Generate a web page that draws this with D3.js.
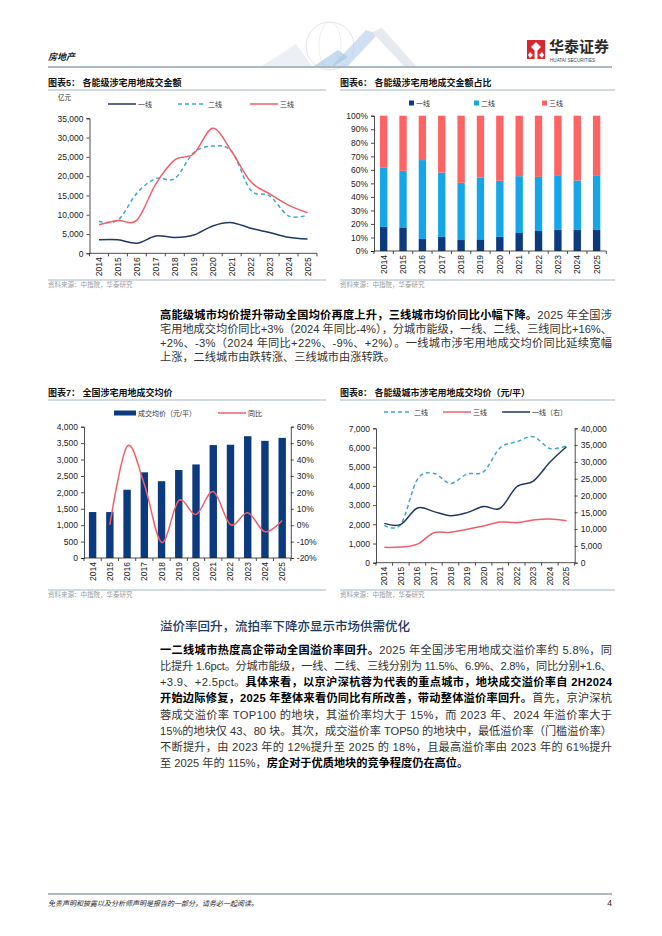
<!DOCTYPE html>
<html>
<head>
<meta charset="utf-8">
<script src="https://cdn.jsdelivr.net/npm/d3@7"></script>
<style>
body { margin: 0; background: #fff; }
svg { display: block; }
</style>
</head>
<body>
<svg width="662" height="936"></svg>
<script>
// data
var years = ["2014","2015","2016","2017","2018","2019","2020","2021","2022","2023","2024","2025"];

// chart 5: land deal amount (亿元)
var amtTier1 = [3500, 3500, 2600, 4500, 4100, 4750, 7100, 7950, 6500, 5400, 4150, 3700];
var amtTier2 = [8300, 8600, 15600, 19400, 19400, 26100, 27800, 26400, 16400, 14900, 9700, 9900];
var amtTier3 = [7400, 8500, 8600, 18000, 24200, 25800, 32400, 26400, 18600, 15400, 12500, 10500];
var amtTicks = [0, 5000, 10000, 15000, 20000, 25000, 30000, 35000];

// chart 6: share of amount (%)
var shareTier1 = [17.8, 17.0, 8.9, 10.4, 8.1, 8.6, 10.4, 13.3, 14.8, 15.6, 15.6, 15.6];
var shareTier2 = [43.7, 42.3, 58.3, 47.6, 42.3, 45.5, 41.5, 42.0, 40.0, 40.4, 36.5, 40.4];
var shareTier3 = [38.5, 40.7, 32.8, 42.0, 49.6, 45.9, 48.1, 44.7, 45.2, 44.0, 47.9, 44.0];
var shareTicks = [0, 10, 20, 30, 40, 50, 60, 70, 80, 90, 100];

// chart 7: national average price (元/平) and yoy (%)
var avgPrice = [1400, 1400, 2080, 2610, 2340, 2680, 2850, 3440, 3450, 3710, 3570, 3660];
var avgPriceYoy = [null, 0.2, 48, 25, -10.5, 15, 6.5, 20.5, 0.3, 7.6, -4, 2.8];
var priceTicks = [0, 500, 1000, 1500, 2000, 2500, 3000, 3500, 4000];
var yoyTicks = [-20, -10, 0, 10, 20, 30, 40, 50, 60];

// chart 8: average price by tier (元/平)
var priceTier2 = [1940, 2000, 4340, 4650, 4130, 4620, 4740, 5990, 6300, 6560, 5950, 6080];
var priceTier3 = [800, 820, 970, 1560, 1580, 1740, 1910, 2120, 2080, 2220, 2270, 2190];
var priceTier1 = [11700, 11400, 16300, 15200, 14000, 14900, 16700, 16200, 22600, 24300, 29900, 34500];
var tierLeftTicks = [0, 1000, 2000, 3000, 4000, 5000, 6000, 7000];
var tierRightTicks = [0, 5000, 10000, 15000, 20000, 25000, 30000, 35000, 40000];

var navy = "#1f3864", teal = "#3ea8c8", coral = "#f0606a";
var barNavy = "#0b3a7e", sky = "#14a6e8", salmon = "#ff6464";
var latin = "'Liberation Sans', Arial, 'Noto Sans CJK SC', sans-serif";
var cjk = "'Liberation Sans', 'Noto Sans CJK SC', sans-serif";

var svg = d3.select("svg");

// ---------- page header ----------
var hdr = svg.append("g");
// faint globe decoration
hdr.append("circle").attr("cx", 330).attr("cy", 46).attr("r", 24)
    .attr("fill", "none").attr("stroke", "#d9dee5").attr("stroke-width", 0.8);
hdr.append("ellipse").attr("cx", 330).attr("cy", 46).attr("rx", 11).attr("ry", 24)
    .attr("fill", "none").attr("stroke", "#e0e4ea").attr("stroke-width", 0.6);
hdr.append("path").attr("d", "M262,66 L296,44 L312,66 Z").attr("fill", "#eceff3");
hdr.append("path").attr("d", "M332,66 L366,30 L378,34 L348,66 Z").attr("fill", "#bcd3ec").attr("opacity", 0.7);
hdr.append("path").attr("d", "M372,32 L382,28 L416,66 L404,66 Z").attr("fill", "#e6e9ee");
hdr.append("path").attr("d", "M314,66 L338,50 L348,57 L334,66 Z").attr("fill", "#9cc3e6").attr("opacity", 0.6);

hdr.append("text").attr("x", 48).attr("y", 60)
    .attr("font-family", cjk).attr("font-size", 9).attr("font-weight", 700)
    .attr("font-style", "italic").attr("fill", "#222").text("房地产");
hdr.append("line").attr("x1", 48).attr("x2", 612).attr("y1", 67).attr("y2", 67)
    .attr("stroke", "#8fa2b4").attr("stroke-width", 1.5);

// logo
hdr.append("rect").attr("x", 527).attr("y", 40).attr("width", 18).attr("height", 19).attr("fill", "#d7282f");
hdr.append("path").attr("d", "M536,42 L541,47 L536,52 L531,47 Z M530,52 L533,55 L530,58 L528,55 Z M542,52 L544,55 L542,58 L539,55 Z")
    .attr("fill", "#fff");
hdr.append("rect").attr("x", 534.5).attr("y", 51).attr("width", 3).attr("height", 8).attr("fill", "#fff");
hdr.append("text").attr("x", 549).attr("y", 52)
    .attr("font-family", "'Noto Sans CJK SC', sans-serif").attr("font-size", 15).attr("font-weight", 700)
    .attr("fill", "#2a2a2a").text("华泰证券");
hdr.append("text").attr("x", 550).attr("y", 61.5)
    .attr("font-family", latin).attr("font-size", 4.6).attr("fill", "#444").text("HUATAI SECURITIES");

// ---------- helpers ----------
function chartTitle(x, y, x2, label) {
    svg.append("text").attr("x", x).attr("y", y)
        .attr("font-family", cjk).attr("font-size", 9).attr("font-weight", 700)
        .attr("fill", "#111").text(label);
    svg.append("line").attr("x1", x).attr("x2", x2).attr("y1", y + 4).attr("y2", y + 4)
        .attr("stroke", "#8fa2b4").attr("stroke-width", 0.8);
}

function chartSource(x, y, x2) {
    svg.append("line").attr("x1", x).attr("x2", x2).attr("y1", y - 7).attr("y2", y - 7)
        .attr("stroke", "#8fa2b4").attr("stroke-width", 0.8);
    svg.append("text").attr("x", x).attr("y", y)
        .attr("font-family", cjk).attr("font-size", 6.5).attr("fill", "#9a9a9a")
        .text("资料来源：中指院，华泰研究");
}

function styleAxis(g) {
    g.selectAll("path.domain").attr("stroke", "#222").attr("stroke-width", 0.8);
    g.selectAll(".tick line").attr("stroke", "#222").attr("stroke-width", 0.8);
    g.selectAll(".tick text").attr("font-family", latin).attr("font-size", 8.5).attr("fill", "#222");
}

function yAxisLeft(x, scale, ticks, fmt) {
    var g = svg.append("g").attr("transform", "translate(" + x + ",0)")
        .call(d3.axisLeft(scale).tickValues(ticks).tickFormat(fmt).tickSizeOuter(0).tickSize(3).tickPadding(3));
    styleAxis(g);
}

function yAxisRight(x, scale, ticks, fmt) {
    var g = svg.append("g").attr("transform", "translate(" + x + ",0)")
        .call(d3.axisRight(scale).tickValues(ticks).tickFormat(fmt).tickSizeOuter(0).tickSize(3).tickPadding(3));
    styleAxis(g);
}

// category axis with ticks between categories, rotated year labels
function xAxisYears(xScale, y) {
    var r = xScale.range();
    var g = svg.append("g");
    g.append("line").attr("x1", r[0]).attr("x2", r[1]).attr("y1", y).attr("y2", y)
        .attr("stroke", "#222").attr("stroke-width", 0.8);
    var bounds = d3.range(years.length + 1).map(function(i) { return r[0] + i * xScale.step(); });
    g.selectAll("line.tk").data(bounds).enter().append("line")
        .attr("x1", function(d) { return d; }).attr("x2", function(d) { return d; })
        .attr("y1", y).attr("y2", y + 3).attr("stroke", "#222").attr("stroke-width", 0.8);
    g.selectAll("text").data(years).enter().append("text")
        .attr("transform", function(d) {
            return "translate(" + (xScale(d) + xScale.bandwidth() / 2 + 3) + "," + (y + 4) + ") rotate(-90)";
        })
        .attr("text-anchor", "end")
        .attr("font-family", latin).attr("font-size", 8.5).attr("fill", "#222")
        .text(function(d) { return d; });
}

function lineLegend(x, y, color, dash, label) {
    svg.append("line").attr("x1", x).attr("x2", x + 28).attr("y1", y).attr("y2", y)
        .attr("stroke", color).attr("stroke-width", 1.5).attr("stroke-dasharray", dash);
    svg.append("text").attr("x", x + 30).attr("y", y + 2.5)
        .attr("font-family", cjk).attr("font-size", 7).attr("fill", "#333").text(label);
}

function boxLegend(x, y, w, color, label) {
    svg.append("rect").attr("x", x).attr("y", y - 2.5).attr("width", w).attr("height", 5).attr("fill", color);
    svg.append("text").attr("x", x + w + 2).attr("y", y + 2.5)
        .attr("font-family", cjk).attr("font-size", 7).attr("fill", "#333").text(label);
}

var comma = d3.format(",");
var pct = function(d) { return d + "%"; };
var smooth = d3.curveCatmullRom.alpha(0);

function drawLine(xScale, yScale, values, color, dash) {
    var line = d3.line()
        .defined(function(d) { return d != null; })
        .x(function(d, i) { return xScale(years[i]) + xScale.bandwidth() / 2; })
        .y(function(d) { return yScale(d); })
        .curve(smooth);
    svg.append("path").datum(values).attr("d", line)
        .attr("fill", "none").attr("stroke", color).attr("stroke-width", 1.5)
        .attr("stroke-dasharray", dash);
}

// ---------- chart 5 ----------
chartTitle(48, 86, 326, "图表5：  各能级涉宅用地成交金额");
svg.append("text").attr("x", 58).attr("y", 100)
    .attr("font-family", cjk).attr("font-size", 6.5).attr("fill", "#333").text("亿元");
lineLegend(108, 104, navy, null, "一线");
lineLegend(178, 104, teal, "4,3", "二线");
lineLegend(250, 104, coral, null, "三线");

var x5 = d3.scaleBand().domain(years).range([89.5, 317]);
var y5 = d3.scaleLinear().domain([0, 35000]).range([253.3, 118.3]);
yAxisLeft(89.5, y5, amtTicks, comma);
drawLine(x5, y5, amtTier2, teal, "4,3");
drawLine(x5, y5, amtTier3, coral, null);
drawLine(x5, y5, amtTier1, navy, null);
xAxisYears(x5, 253.3);
chartSource(48, 287, 326);

// ---------- chart 6 ----------
chartTitle(340, 86, 615, "图表6：  各能级涉宅用地成交金额占比");
boxLegend(409, 103, 5, barNavy, "一线");
boxLegend(474, 103, 5, sky, "二线");
boxLegend(542, 103, 5, salmon, "三线");

var x6 = d3.scaleBand().domain(years).range([374, 606.3]).paddingInner(0.62).paddingOuter(0.31);
var y6 = d3.scaleLinear().domain([0, 100]).range([251, 115.7]);
var shareRows = years.map(function(yr, i) {
    return { year: yr, t1: shareTier1[i], t2: shareTier2[i], t3: shareTier3[i] };
});
var stack = d3.stack().keys(["t1", "t2", "t3"])(shareRows);
var stackColors = [barNavy, sky, salmon];
svg.append("g").selectAll("g").data(stack).enter().append("g")
    .attr("fill", function(d, i) { return stackColors[i]; })
    .selectAll("rect").data(function(d) { return d; }).enter().append("rect")
    .attr("x", function(d) { return x6(d.data.year); })
    .attr("width", x6.bandwidth())
    .attr("y", function(d) { return y6(d[1]); })
    .attr("height", function(d) { return y6(d[0]) - y6(d[1]); });
yAxisLeft(374, y6, shareTicks, pct);
xAxisYears(x6, 251);
chartSource(340, 287, 615);

// ---------- body paragraph 1 ----------
var textX = 160, textW = 452;
function bodyLine(y, segs, justify) {
    var t = svg.append("text").attr("x", textX).attr("y", y)
        .attr("font-family", cjk).attr("font-size", 11.2);
    if (justify) t.attr("textLength", textW).attr("lengthAdjust", "spacing");
    segs.forEach(function(s) {
        t.append("tspan").attr("font-weight", s[1] ? 700 : 400)
            .attr("fill", s[1] ? "#000" : "#333").text(s[0]);
    });
}
bodyLine(319, [["高能级城市均价提升带动全国均价再度上升，三线城市均价同比小幅下降。", 1], ["2025 年全国涉", 0]], true);
bodyLine(333, [["宅用地成交均价同比+3%（2024 年同比-4%），分城市能级，一线、二线、三线同比+16%、", 0]], true);
bodyLine(347, [["+2%、-3%（2024 年同比+22%、-9%、+2%）。一线城市涉宅用地成交均价同比延续宽幅", 0]], true);
bodyLine(361, [["上涨，二线城市由跌转涨、三线城市由涨转跌。", 0]], false);

// ---------- chart 7 ----------
chartTitle(48, 396, 326, "图表7：  全国涉宅用地成交均价");
boxLegend(114, 413, 22, barNavy, "成交均价（元/平）");
lineLegend(218, 413, coral, null, "同比");

var x7 = d3.scaleBand().domain(years).range([84, 290.8]).paddingInner(0.57).paddingOuter(0.285);
var y7 = d3.scaleLinear().domain([0, 4000]).range([558, 426.7]);
var y7r = d3.scaleLinear().domain([-20, 60]).range([558, 426.7]);
svg.append("g").selectAll("rect").data(avgPrice).enter().append("rect")
    .attr("x", function(d, i) { return x7(years[i]); })
    .attr("width", x7.bandwidth())
    .attr("y", function(d) { return y7(d); })
    .attr("height", function(d) { return y7(0) - y7(d); })
    .attr("fill", barNavy);
var x7c = d3.scaleBand().domain(years).range([84, 290.8]);
drawLine(x7c, y7r, avgPriceYoy, coral, null);
yAxisLeft(84, y7, priceTicks, comma);
yAxisRight(290.8, y7r, yoyTicks, pct);
xAxisYears(x7c, 558);
chartSource(48, 597, 326);

// ---------- chart 8 ----------
chartTitle(340, 396, 615, "图表8：  各能级城市涉宅用地成交均价（元/平）");
lineLegend(384, 412, teal, "4,3", "二线");
lineLegend(443, 412, coral, null, "三线");
lineLegend(502, 412, navy, null, "一线（右）");

var x8 = d3.scaleBand().domain(years).range([376, 574.7]);
var y8 = d3.scaleLinear().domain([0, 7000]).range([562.7, 428.3]);
var y8r = d3.scaleLinear().domain([0, 40000]).range([562.7, 428.3]);
drawLine(x8, y8, priceTier2, teal, "4,3");
drawLine(x8, y8, priceTier3, coral, null);
drawLine(x8, y8r, priceTier1, navy, null);
yAxisLeft(376, y8, tierLeftTicks, comma);
yAxisRight(574.7, y8r, tierRightTicks, comma);
xAxisYears(x8, 562.7);
chartSource(340, 597, 615);

// ---------- section heading + paragraph 2 ----------
svg.append("text").attr("x", 160).attr("y", 631)
    .attr("font-family", "'Noto Sans CJK SC', sans-serif").attr("font-size", 12.5).attr("font-weight", 500)
    .attr("fill", "#1d3b5e").text("溢价率回升，流拍率下降亦显示市场供需优化");

var p2y = [654, 670, 686, 702, 718.5, 734.5, 750.5, 766.5];
bodyLine(p2y[0], [["一二线城市热度高企带动全国溢价率回升。", 1], ["2025 年全国涉宅用地成交溢价率约 5.8%，同", 0]], true);
bodyLine(p2y[1], [["比提升 1.6pct。分城市能级，一线、二线、三线分别为 11.5%、6.9%、2.8%，同比分别+1.6、", 0]], true);
bodyLine(p2y[2], [["+3.9、+2.5pct。", 0], ["具体来看，以京沪深杭蓉为代表的重点城市，地块成交溢价率自 2H2024", 1]], true);
bodyLine(p2y[3], [["开始边际修复，2025 年整体来看仍同比有所改善，带动整体溢价率回升。", 1], ["首先，京沪深杭", 0]], true);
bodyLine(p2y[4], [["蓉成交溢价率 TOP100 的地块，其溢价率均大于 15%，而 2023 年、2024 年溢价率大于", 0]], true);
bodyLine(p2y[5], [["15%的地块仅 43、80 块。其次，成交溢价率 TOP50 的地块中，最低溢价率（门槛溢价率）", 0]], true);
bodyLine(p2y[6], [["不断提升，由 2023 年的 12%提升至 2025 的 18%，且最高溢价率由 2023 年的 61%提升", 0]], true);
bodyLine(p2y[7], [["至 2025 年的 115%，", 0], ["房企对于优质地块的竞争程度仍在高位。", 1]], false);

// ---------- footer ----------
svg.append("line").attr("x1", 48).attr("x2", 612).attr("y1", 894).attr("y2", 894)
    .attr("stroke", "#8fa2b4").attr("stroke-width", 1.5);
svg.append("text").attr("x", 48).attr("y", 906)
    .attr("font-family", cjk).attr("font-size", 7).attr("font-style", "italic").attr("fill", "#222")
    .text("免责声明和披露以及分析师声明是报告的一部分，请务必一起阅读。");
svg.append("text").attr("x", 612).attr("y", 906).attr("text-anchor", "end")
    .attr("font-family", latin).attr("font-size", 8.5).attr("fill", "#222").text("4");
</script>
</body>
</html>
